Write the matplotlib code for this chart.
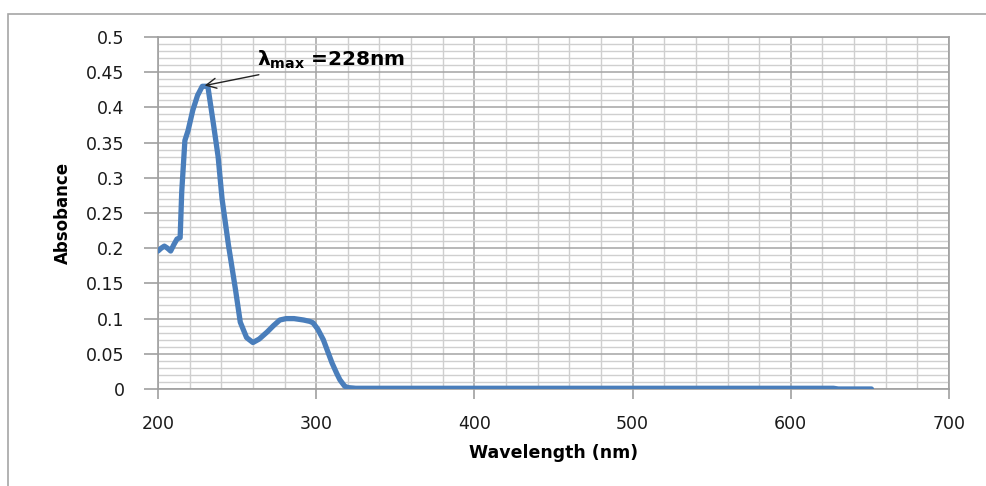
import matplotlib
matplotlib.use("Agg")
import matplotlib.pyplot as plt
from matplotlib.patches import Rectangle
from matplotlib.ticker import MultipleLocator

wavelength = [200, 202, 204, 206, 208, 210, 212, 214, 215, 217, 219, 222, 225,
              228, 231.5, 235, 238, 240.5, 244.5, 249, 252, 256, 260, 264, 269,
              273, 277, 281, 286, 292, 296, 298, 301, 304.5, 307, 310, 313, 315,
              318, 320, 325, 350, 400, 500, 600, 627, 630, 651]
absorbance = [0.196, 0.200, 0.203, 0.200, 0.196, 0.205, 0.213, 0.215, 0.280,
              0.353, 0.367, 0.396, 0.417, 0.430, 0.430, 0.377, 0.330, 0.270,
              0.205, 0.141, 0.095, 0.073, 0.066, 0.071, 0.081, 0.090, 0.098,
              0.100, 0.100, 0.098, 0.096, 0.094, 0.085, 0.070, 0.055, 0.037,
              0.022, 0.013, 0.004, 0.002, 0.001, 0.001, 0.001, 0.001, 0.001,
              0.001, 0.000, 0.000]
x_ticks = [200, 300, 400, 500, 600, 700]
y_ticks = [0, 0.05, 0.1, 0.15, 0.2, 0.25, 0.3, 0.35, 0.4, 0.45, 0.5]
y_tick_labels = ["0", "0.05", "0.1", "0.15", "0.2", "0.25", "0.3", "0.35",
                 "0.4", "0.45", "0.5"]
peak_label = "λ$_{\\mathbf{max}}$ =228nm"
peak_xy = (229.5, 0.431)

fig = plt.figure(figsize=(9.86, 4.86), dpi=100)
fig.patch.set_facecolor("white")
fig.patches.append(Rectangle((8 / 986, -0.05), 1.2, 1 - 14 / 486 + 0.05,
                             transform=fig.transFigure, fill=False,
                             edgecolor="#a6a6a6", linewidth=1.2))

ax = fig.add_axes([158 / 986, 1 - 389 / 486, (949 - 158) / 986, (389 - 37) / 486])
ax.set_xlim(200, 700)
ax.set_ylim(0, 0.5)

ax.xaxis.set_major_locator(MultipleLocator(100))
ax.xaxis.set_minor_locator(MultipleLocator(20))
ax.yaxis.set_major_locator(MultipleLocator(0.05))
ax.yaxis.set_minor_locator(MultipleLocator(0.01))
ax.set_xticks(x_ticks)
ax.set_yticks(y_ticks)
ax.set_yticklabels(y_tick_labels)

ax.grid(which="minor", color="#cfcfcf", linewidth=1.0)
ax.grid(which="major", color="#a4a4a4", linewidth=1.1)
ax.set_axisbelow(True)

for s in ax.spines.values():
    s.set_color("#a0a0a0")
    s.set_linewidth(1.2)

ax.tick_params(axis="y", which="major", length=10, width=1.2, color="#a0a0a0",
               pad=14, labelsize=12.5, labelcolor="#1a1a1a")
ax.tick_params(axis="x", which="major", length=7, width=1.2, color="#a0a0a0",
               pad=12, labelsize=12.5, labelcolor="#1a1a1a")
ax.tick_params(which="minor", length=0)

ax.plot(wavelength, absorbance, color="#4a7ebb", linewidth=3.8,
        solid_joinstyle="round", solid_capstyle="round", zorder=3)

ax.annotate(peak_label, xy=peak_xy, xytext=(262.5, 0.467),
            fontsize=14.5, fontweight="bold", ha="left", va="center",
            arrowprops=dict(arrowstyle="->", color="#222222", lw=1.0,
                            mutation_scale=18, shrinkA=2, shrinkB=0),
            zorder=4)

ax.set_xlabel("Wavelength (nm)", fontsize=12.5, fontweight="bold", labelpad=8)
ax.set_ylabel("Absobance", fontsize=12, fontweight="bold", labelpad=10)

fig.savefig("out.png", dpi=100)
